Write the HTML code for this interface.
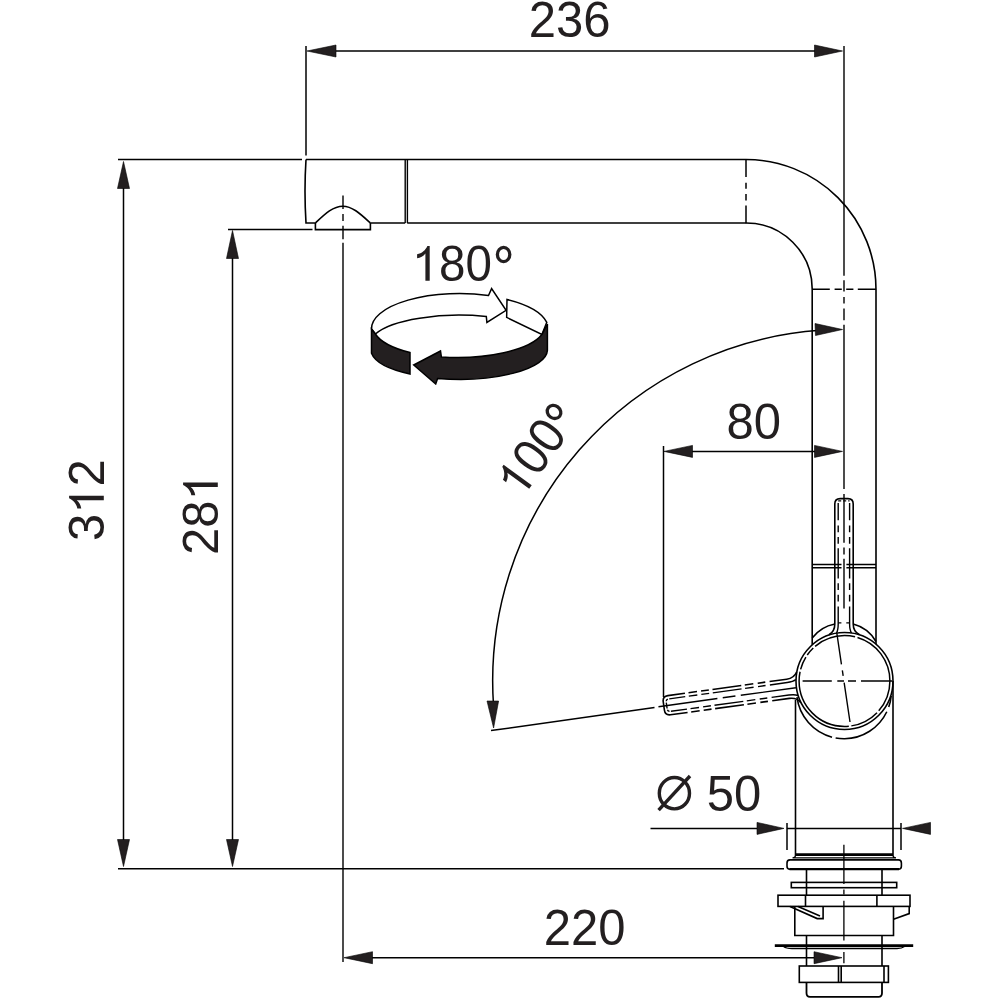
<!DOCTYPE html>
<html><head><meta charset="utf-8">
<style>
html,body{margin:0;padding:0;background:#fff;width:1000px;height:1000px;overflow:hidden}
svg{position:absolute;left:0;top:0;display:block}
text{font-family:"Liberation Sans",sans-serif;font-size:49px;fill:#231f20}
</style></head><body>
<svg width="1000" height="1000" viewBox="0 0 1000 1000">

<!-- ============ FAUCET OUTLINE ============ -->
<g id="faucet" fill="none" stroke="#000" stroke-width="1.6">
  <!-- spout -->
  <path d="M306,159.5 L746,159.5 A130,130 0 0 1 876,289.5 L876,644.2"/>
  <path d="M407.2,223 L746,223 A66,66 0 0 1 812.2,289 L812.2,644.8"/>
  <path d="M306,159.5 Q304,191 306,223 L315.4,223"/>
  <path d="M370.4,223 L405.2,223"/>
  <line x1="405.2" y1="159.5" x2="405.2" y2="223" stroke-width="1.4"/>
  <line x1="407.4" y1="159.5" x2="407.4" y2="223" stroke-width="1.4"/>
  <path d="M315.4,223 L315.4,229.6 L370.4,229.6 L370.4,223"/>
  <path d="M315.4,223 C325,214 333,206.2 342.8,206.2 C352.5,206.2 360.5,214 370.4,223"/>
  <path d="M746,159.5 L746,177.1 M746,182.75 L746,188.75 M746,194 L746,200.4 M746,205.6 L746,223.3" stroke-width="1.5"/>
  <path d="M812.2,289.3 L829.8,289.3 M834.6,289.3 L841.8,289.3 M846.2,289.3 L853.4,289.3 M857.8,289.3 L876,289.3" stroke-width="1.5"/>
  <!-- double horizontal -->
  <path d="M812.2,564.5 L841.5,564.5 M812.2,567.7 L841.5,567.7 M846.4,564.5 L876,564.5 M846.4,567.7 L876,567.7" stroke-width="1.4"/>

  <!-- upright lever (solid outer, dashed inner) -->
  <path d="M829,634.8 Q834.8,631.5 834.8,624 L834.8,504 Q834.8,498.6 840.2,498.6 L848,498.6 Q853.2,498.6 853.2,504 L853.2,624 Q853.2,631.5 859.5,634.8"/>
  <path d="M838.2,503 L838.2,624 Q838.2,630 836.5,633 M849.6,503 L849.6,624 Q849.6,630 851.5,633" stroke-dasharray="17.2,5.2,6.8,4.8,6.8,4.4,30.4,4.6,6.7,4.9,6.8,5,40,4" stroke-width="1.4"/>
  <path d="M838.2,500.8 L849.6,500.8" stroke-dasharray="3,2" stroke-width="1.2"/>
  <path d="M838.2,622.8 L841.4,622.8 M846.3,622.8 L849.6,622.8" stroke-width="1.3"/>
  <!-- shadow arcs (upper) -->
  <path d="M812.2,638 A37.3,37.3 0 0 1 834.8,624"/>
  <path d="M853.2,624 A37.3,37.3 0 0 1 876,641.5"/>

  <!-- circles -->
  <circle cx="844.5" cy="681" r="48.5"/>
  <circle cx="844.5" cy="681" r="45.4" stroke-width="1.5" stroke-dasharray="32.5,2.5,29.3,2.5,84.9,2.5,13.3,2.5,9.2,2.5,42.6,2.5,70"/>
  <!-- lower shadow arc -->
  <path d="M797,697.2 A47.4,47.4 0 0 0 891.2,696" stroke-dasharray="56.3,3.7,61.7,5,50"/>
  <!-- lower body -->
  <line x1="795.5" y1="700" x2="795.5" y2="855"/>
  <line x1="893" y1="681" x2="893" y2="855"/>
  <!-- crosshair -->
  <line x1="802.6" y1="681" x2="892.5" y2="681" stroke-dasharray="29.2,5.5,6.7,4,8,5,31" stroke-width="1.4"/>
  <line x1="836.8" y1="633" x2="850" y2="722" stroke-dasharray="31.7,6.1,5.6,6.7,60" stroke-width="1.4"/>

  <!-- rotated lever (phantom lines) -->
  <g transform="rotate(-97.86 844.5 681)">
    <path d="M844.5,498.6 L840.2,498.6 Q834.8,498.6 834.8,504 L834.8,624 Q834.8,631.5 829,634.8" stroke-dasharray="30.1,3.6,8.6,4.05,7.9,3.65,29.05,3.55,8.6,4.45,7.65,4.35,100"/>
    <path d="M844.5,498.6 L848.8,498.6 Q854.2,498.6 854.2,504 L854.2,624 Q854.2,631.5 860,634.8" stroke-dasharray="30.1,3.6,8.6,4.05,7.9,3.65,29.05,3.55,8.6,4.45,7.65,4.35,100"/>
    <path d="M844.5,501.5 L841,501.5 Q838.2,501.5 838.2,505 M844.5,501.5 L848,501.5 Q850.8,501.5 850.8,505" stroke-dasharray="3,1.2" stroke-width="1.4"/>
    <path d="M838.2,505 L838.2,624 Q838.2,630 836.5,633" stroke-dasharray="16.1,3.6,8.6,4.05,7.9,3.65,29.05,3.55,8.6,4.45,7.65,4.35,100" stroke-width="1.4"/>
    <path d="M850.8,505 L850.8,624 Q850.8,630 852.5,633" stroke-dasharray="16.1,3.6,8.6,4.05,7.9,3.65,29.05,3.55,8.6,4.45,7.65,4.35,100" stroke-width="1.4"/>
    <path d="M844.5,493.2 L844.5,552.7 M844.5,558.1 L844.5,570.9 M844.5,576.3 L844.5,632" stroke-width="1.4"/>
  </g>

  <!-- base -->
  <path d="M795.5,854.6 L893,854.6" stroke-width="2.6"/>
  <path d="M795.5,855 Q795.5,857.9 792.5,857.9 L896,857.9 Q893,857.9 893,855" stroke-width="1.3"/>
  <rect x="787" y="859.9" width="114.4" height="9.3" rx="3"/>
  <path d="M789.5,869.2 L899,869.2" stroke-width="2.2"/>
  <path d="M806.5,869.6 L806.5,895.2 M882,869.6 L882,895.2"/>
  <rect x="791.3" y="882.4" width="105.4" height="5.3"/>
  <rect x="778" y="895.2" width="132" height="11.2"/>
  <path d="M805.5,895.2 L805.5,906.4 M876.9,895.2 L876.9,906.4"/>
  <path d="M794.8,906.4 L794.8,935.5 L893.5,935.5 L893.5,906.4"/>
  <path d="M790,906.4 L817.2,918.6 L823.1,918.6 L823.1,906.4 M798,906.4 L820,916"/>
  <path d="M893.5,919.2 L909.2,913.6 L909.2,906.4"/>
  <line x1="774.8" y1="945.6" x2="913.2" y2="945.6" stroke-width="2.6"/>
  <path d="M783.6,946.5 Q786,948.5 792,948.5 L897,948.5 Q902,948.5 904.4,946.5" stroke-width="1.3"/>
  <path d="M806.5,935.5 L806.5,966 M882,935.5 L882,966"/>
  <rect x="799.3" y="966" width="89.1" height="16.4"/>
  <path d="M838.5,966 L838.5,982.4 M841.2,966 L841.2,982.4 M884,966 L884,982.4"/>
  <path d="M806.5,982.4 L806.5,993 Q806.5,996.8 810,996.8 L878.5,996.8 Q882,996.8 882,993 L882,982.4" stroke-width="1.8"/>
  <line x1="843.9" y1="844.8" x2="843.9" y2="963.2" stroke-dasharray="39.2,5.6,4.8,6.4,39.7,11.5,11.2" stroke-width="1.3"/>
</g>

<!-- ============ CENTER / EXTENSION LINES ============ -->
<g id="cl" fill="none" stroke="#000" stroke-width="1.4">
  <path d="M844,46 L844,275.7 M844,280.2 L844,291.5 M844,296.9 L844,303.6 M844,308.6 L844,320.3 M844,324.8 L844,489 M844,494 L844,542.8 M844,547.6 L844,554.4 M844,558.8 L844,608.5"/>
  <path d="M343,195.4 L343,208.9 M343,214 L343,220.9 M343,225.7 L343,239.2 M343,242.8 L343,962"/>
</g>

<!-- ============ ROTATION ICON ============ -->
<g id="rot" stroke="#000" stroke-width="1.5" stroke-linejoin="miter">
  <path fill="none" d="M371.5,329 A88,35 0 0 1 488.5,295.5 L491.6,288.6 L506.1,310.3 L486.9,322.4 L486.3,316.5 A88.8,28 0 0 0 375.4,334 Z"/>
  <path fill="none" d="M507,299.5 A88,35 0 0 1 546.8,322.4 L541.9,334.5 L506.65,317.4 Z"/>
  <path fill="#231f20" d="M371.5,329 L371.5,353.2 A88,29.6 0 0 0 410,374 L410,352.6 A88,31.6 0 0 1 375.4,334 Z"/>
  <path fill="#231f20" d="M413.7,365 L440.5,351 L441.4,357 A88,31.6 0 0 0 541.9,334.5 L547.4,324 L547.4,350.4 A88,29.6 0 0 1 437.6,378.5 L435.7,384 Z"/>
</g>

<!-- ============ DIMENSIONS ============ -->
<g id="dims" fill="none" stroke="#000" stroke-width="1.5">
  <line x1="306" y1="46" x2="306" y2="155.5"/>
  <line x1="330" y1="51" x2="820" y2="51"/>
  <line x1="118" y1="159.5" x2="302" y2="159.5"/>
  <line x1="228" y1="229.6" x2="312.5" y2="229.6"/>
  <line x1="123.5" y1="185" x2="123.5" y2="845"/>
  <line x1="232.5" y1="255" x2="232.5" y2="845"/>
  <line x1="118" y1="868.7" x2="784" y2="868.7"/>
  <line x1="365" y1="957.7" x2="820" y2="957.7"/>
  <line x1="663.5" y1="446" x2="663.5" y2="697"/>
  <line x1="688" y1="451.4" x2="820" y2="451.4"/>
  <line x1="650.5" y1="828.4" x2="760" y2="828.4"/>
  <line x1="787" y1="823" x2="787" y2="850"/>
  <line x1="901" y1="823" x2="901" y2="850"/>
  <line x1="787" y1="828.4" x2="901" y2="828.4"/>
  <path d="M820,330.3 A351.5,351.5 0 0 0 493.5,705"/>
  <path d="M491,730.6 L654.5,707.5"/>
</g>
<g id="arrows" fill="#231f20" stroke="#000" stroke-width="0.6">
  <path d="M307,51 L336,45 L336,57 Z"/>
  <path d="M842.5,51 L814.5,45 L814.5,57 Z"/>
  <path d="M123.5,161.5 L117.5,188.5 L129.5,188.5 Z"/>
  <path d="M232.5,230.5 L226.5,258.5 L238.5,258.5 Z"/>
  <path d="M123.5,866.5 L117.5,839.5 L129.5,839.5 Z"/>
  <path d="M232.5,866.5 L226.5,839.5 L238.5,839.5 Z"/>
  <path d="M344,957.7 L372.5,951.7 L372.5,963.7 Z"/>
  <path d="M842,957.7 L814,951.7 L814,963.7 Z"/>
  <path d="M664,451.4 L692.5,445.4 L692.5,457.4 Z"/>
  <path d="M842.5,451.4 L814.5,445.4 L814.5,457.4 Z"/>
  <path d="M784,828.4 L757,822.4 L757,834.4 Z"/>
  <path d="M902.5,828.4 L930.5,822.4 L930.5,834.4 Z"/>
  <path d="M842.5,329.5 L815,323.5 L815.5,335.5 Z"/>
  <path d="M493.6,728 L487,701 L498.6,701 Z"/>
</g>

<!-- ============ TEXT ============ -->
<g id="texts" fill="#231f20">
  <g transform="translate(528.8,36.6) scale(1,1.03)"><text x="0" y="0">236</text></g>
  <g transform="translate(726.4,438.8) scale(1,1.03)"><text x="0" y="0">80</text></g>
  <!-- 180° -->
  <g transform="translate(411.8,280.7) scale(1,1.03)">
    <path transform="translate(0,0)" d="M13.6,0 L17.9,0 L17.9,-33.7 L15.6,-33.7 C13.9,-29.9 10,-26.3 5.3,-25.7 L5.3,-21.9 C8.8,-22.3 12,-24 13.6,-26.3 Z"/><g transform="translate(27.24,0) scale(0.97,1)"><text x="0" y="0">80</text></g>
  </g>
  <ellipse cx="503.6" cy="254.5" rx="6.2" ry="7.1" fill="none" stroke="#231f20" stroke-width="3.3"/>
  <g transform="translate(543.8,945.2) scale(1,1.03)"><text x="0" y="0">220</text></g>
  <!-- 312 -->
  <g transform="translate(103.8,541) rotate(-90) scale(1,1.03)">
    <text x="0" y="0">3</text><path transform="translate(27.24,0)" d="M13.6,0 L17.9,0 L17.9,-33.7 L15.6,-33.7 C13.9,-29.9 10,-26.3 5.3,-25.7 L5.3,-21.9 C8.8,-22.3 12,-24 13.6,-26.3 Z"/><text x="54.48" y="0">2</text>
  </g>
  <!-- 281 -->
  <g transform="translate(217.8,555) rotate(-90) scale(1,1.03)">
    <text x="0" y="0">28</text><path transform="translate(54.48,0)" d="M13.6,0 L17.9,0 L17.9,-33.7 L15.6,-33.7 C13.9,-29.9 10,-26.3 5.3,-25.7 L5.3,-21.9 C8.8,-22.3 12,-24 13.6,-26.3 Z"/>
  </g>
  <!-- 100° -->
  <g transform="translate(521.2,499.7) rotate(-54)">
    <g transform="scale(1,1.03)"><path transform="translate(0,0)" d="M13.6,0 L17.9,0 L17.9,-33.7 L15.6,-33.7 C13.9,-29.9 10,-26.3 5.3,-25.7 L5.3,-21.9 C8.8,-22.3 12,-24 13.6,-26.3 Z"/><g transform="translate(27.24,0) scale(0.97,1)"><text x="0" y="0">00</text></g></g>
    <ellipse cx="90.3" cy="-25" rx="6.2" ry="7.1" fill="none" stroke="#231f20" stroke-width="3.3"/>
  </g>
  <!-- Ø 50 -->
  <ellipse cx="674.4" cy="793.2" rx="15.1" ry="15.7" fill="none" stroke="#231f20" stroke-width="3.4"/>
  <line x1="658.6" y1="810.2" x2="690" y2="776" stroke="#231f20" stroke-width="3.4"/>
  <g transform="translate(706.7,810.8) scale(1,1.03)"><text x="0" y="0">50</text></g>
</g>
</svg>
</body></html>
